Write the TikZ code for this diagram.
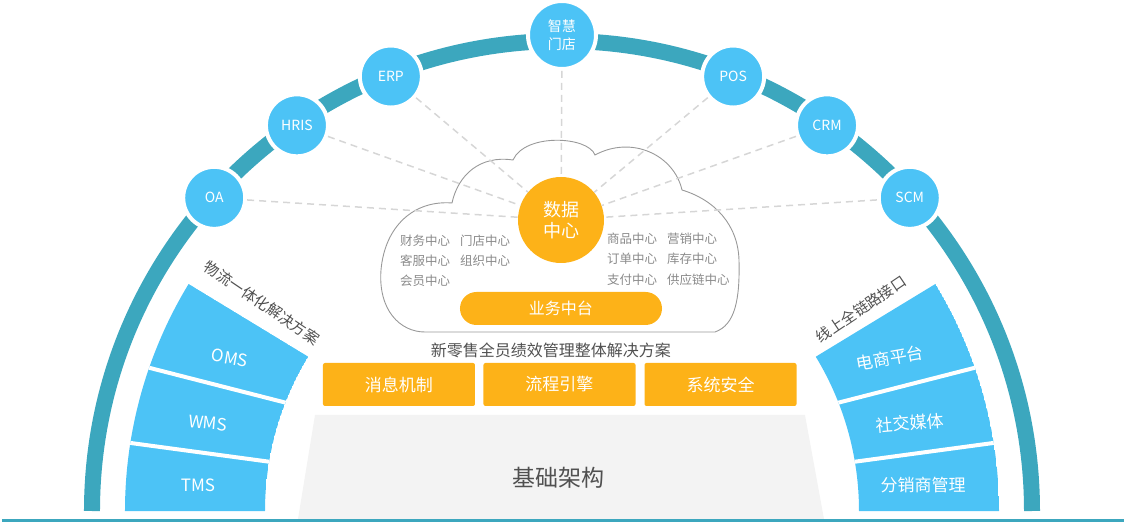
\documentclass[tikz,border=0pt]{standalone}
\usepackage{fontspec}
\setmainfont{Noto Sans CJK SC}
\definecolor{band teal}{HTML}{3CA7BE}
\definecolor{sys blue}{HTML}{4CC3F6}
\definecolor{data orange}{HTML}{FDB218}
\definecolor{base gray}{HTML}{F3F3F3}
\definecolor{label gray}{HTML}{505050}
\definecolor{soft gray}{HTML}{8A8A8A}
\colorlet{cloud edge}{black!40}
\colorlet{link gray}{black!16}
\def\leftwing{(180:297) -- (180:437) arc (180:148.7:437) -- (148.7:297) arc (148.7:180:297) -- cycle}
\def\rightwing{(0:297) -- (0:437) arc (0:31.3:437) -- (31.3:297) arc (31.3:0:297) -- cycle}
\def\cloud{(-137,179) -- (153,179) .. controls (173,186) and (178,211) .. (177,251)
  .. controls (176,286) and (153,311) .. (120,321) .. controls (112,356) and (70,376) .. (33,356)
  .. controls (26,375) and (-37,378) .. (-49,351) .. controls (-82,356) and (-104,336) .. (-110,308)
  .. controls (-147,311) and (-177,286) .. (-181,241) .. controls (-184,201) and (-162,179) .. (-137,179) -- cycle}
\tikzset{sys/.style={circle, fill=sys blue, draw=white, line width=4pt, minimum size=62pt,
    inner sep=0pt, text=white, align=center, font=\fontsize{14}{18}\selectfont},
  link/.style={draw=link gray, line width=1.5pt, dash pattern=on 7pt off 5pt},
  divider/.style={draw=white, line width=4pt},
  panel/.style={text=white, font=\fontsize{17}{17}\selectfont},
  side/.style={text=label gray, font=\fontsize{15}{15}\selectfont},
  mini/.style={anchor=west, inner sep=0pt, text=soft gray, font=\fontsize{12.5}{12.5}\selectfont},
  block/.style={fill=data orange, rounded corners=2pt, minimum width=152pt, minimum height=43pt,
    inner sep=0pt, text=white, font=\fontsize{17}{17}\selectfont}}

\begin{document}
\begin{tikzpicture}[x=1pt,y=1pt]
	\useasboundingbox (-562,-19) rectangle (562,511);
	\fill[base gray] (-264,-8) -- (-247,96) -- (243,96) -- (262,-8) -- cycle;
	\node[text=label gray, font=\fontsize{23}{23}\selectfont] (base) at (-3,33) {基础架构};
	\draw[band teal, line width=3.5pt] (-560,-9.5) -- (562,-9.5);
	\begin{scope}
		\clip \leftwing;
		\fill[sys blue] \leftwing;
		\draw[divider] (-426,146.6) -- (-261,104.4);
		\draw[divider] (-446,70) -- (-276,47);
	\end{scope}
	\begin{scope}
		\clip \rightwing;
		\fill[sys blue] \rightwing;
		\draw[divider] (426,146.6) -- (261,104.4);
		\draw[divider] (446,70) -- (276,47);
	\end{scope}
	\node[panel, rotate=-10] (oms) at (-332,153) {OMS};
	\node[panel, rotate=-5] (wms) at (-354,88) {WMS};
	\node[panel] (tms) at (-364,26) {TMS};
	\node[panel, rotate=10] (shop) at (328,153) {电商平台};
	\node[panel, rotate=5] (social) at (348,88) {社交媒体};
	\node[panel] (resale) at (361,26) {分销商管理};
	\node[side, rotate=-34] (logistics) at (-300,208) {物流一体化解决方案};
	\node[side, rotate=34] (online) at (299,202) {线上全链路接口};
	
	\node[block] (msg) at (-163,126.5) {消息机制};
	\node[block] (flow) at (-2.5,126.5) {流程引擎};
	\node[block] (safe) at (158.5,126.5) {系统安全};
	\node[side, font=\fontsize{16}{16}\selectfont] (title) at (-11,161) {新零售全员绩效管理整体解决方案};
	
	\draw[band teal, line width=16pt] (-470,0) arc (180:0:470);
	\node[sys] (oa) at (138:468) {OA};
	\node[sys] (hris) at (124.5:468) {HRIS};
	\node[sys] (erp) at (111.5:467) {ERP};
	\node[sys, minimum size=68pt] (store) at (90:476) {智慧\\门店};
	\node[sys] (pos) at (68.5:467) {POS};
	\node[sys] (crm) at (55.5:468) {CRM};
	\node[sys] (scm) at (42:468) {SCM};
	
	\draw[cloud edge, line width=0.9pt] \cloud;
	\node[circle, fill=data orange, minimum size=86pt, inner sep=0pt, text=white, align=center,
		font=\fontsize{18}{21}\selectfont] (dc) at (-1,291) {数据\\中心};
	\draw[link] (oa) -- (dc) (hris) -- (dc) (erp) -- (dc) (store) -- (dc)
		(pos) -- (dc) (crm) -- (dc) (scm) -- (dc);
	\node[block, rounded corners=16.5pt, minimum width=202pt, minimum height=33pt,
		font=\fontsize{16}{16}\selectfont] (mid) at (-1,202.5) {业务中台};
	
	\node[mini] (finance) at (-162,270) {财务中心};
	\node[mini] (service) at (-162,250) {客服中心};
	\node[mini] (member) at (-162,230) {会员中心};
	\node[mini] (outlet) at (-102,270) {门店中心};
	\node[mini] (org) at (-102,250) {组织中心};
	\node[mini] (goods) at (45,272) {商品中心};
	\node[mini] (order) at (45,252) {订单中心};
	\node[mini] (pay) at (45,231) {支付中心};
	\node[mini] (market) at (105,272) {营销中心};
	\node[mini] (stock) at (105,252) {库存中心};
	\node[mini] (supply) at (105,231) {供应链中心};
\end{tikzpicture}
\end{document}
